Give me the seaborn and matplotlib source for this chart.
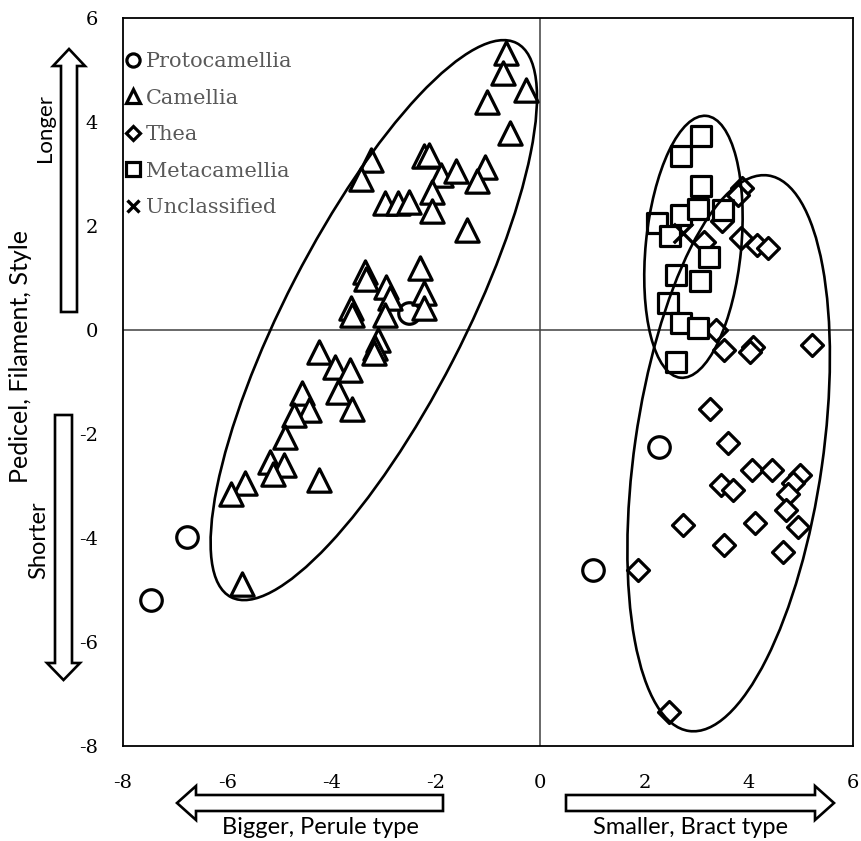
import numpy as np
import pandas as pd
import matplotlib
matplotlib.use("Agg")
import matplotlib.pyplot as plt
from matplotlib.patches import Ellipse, Polygon
from matplotlib.lines import Line2D
import seaborn as sns

# ---------------- data ----------------
proto_x = [-2.52, -6.78, -7.46, 2.27, 1.01]
proto_y = [0.33, -3.98, -5.20, -2.25, -4.62]

camellia_x = [-0.66, -0.72, -0.28, -1.01, -0.58, -3.24, -3.43, -2.23, -2.13, -1.91,
              -1.62, -1.06, -1.22, -2.07, -2.97, -2.73, -2.51, -2.07, -1.40, -3.35,
              -3.34, -2.31, -2.96, -2.87, -2.23, -2.23, -3.62, -3.61, -2.98, -3.10,
              -3.16, -3.19, -4.25, -3.93, -3.64, -3.87, -3.61, -4.56, -4.44, -4.73,
              -4.89, -5.18, -4.92, -5.12, -4.25, -5.66, -5.92, -5.71]
camellia_y = [5.33, 4.94, 4.62, 4.38, 3.79, 3.27, 2.90, 3.34, 3.37, 2.98,
              3.05, 3.14, 2.86, 2.66, 2.44, 2.44, 2.47, 2.28, 1.93, 1.12,
              0.99, 1.19, 0.83, 0.61, 0.71, 0.42, 0.42, 0.29, 0.29, -0.19,
              -0.35, -0.45, -0.42, -0.71, -0.77, -1.19, -1.51, -1.22, -1.54, -1.64,
              -2.05, -2.54, -2.60, -2.76, -2.89, -2.95, -3.15, -4.88]

thea_x = [3.87, 3.79, 3.48, 3.15, 3.86, 4.15, 4.37, 3.38, 3.53, 4.08, 4.02, 5.21,
          3.25, 3.60, 4.06, 4.44, 4.98, 4.85, 4.76, 4.72, 4.95, 4.66, 3.47, 3.69,
          4.12, 2.74, 3.52, 1.87, 2.47]
thea_y = [2.73, 2.60, 2.09, 1.70, 1.77, 1.64, 1.57, 0.00, -0.39, -0.32, -0.42, -0.29,
          -1.51, -2.17, -2.70, -2.70, -2.79, -2.95, -3.15, -3.47, -3.79, -4.27, -2.98, -3.08,
          -3.72, -3.75, -4.14, -4.62, -7.35]

meta_x = [3.08, 2.71, 3.08, 2.70, 3.03, 3.51, 2.24, 2.50, 3.23, 2.61, 3.06, 2.46, 2.71, 3.03, 2.61]
meta_y = [3.74, 3.34, 2.77, 2.22, 2.33, 2.31, 2.05, 1.81, 1.41, 1.06, 0.95, 0.51, 0.13, 0.03, -0.61]

uncl_x = [2.74]
uncl_y = [1.86]

group_names = ["Protocamellia", "Camellia", "Thea", "Metacamellia", "Unclassified"]

# ellipses: center x, center y, width (major), height (minor), angle
ell_cx = [-3.19, 2.94, 3.615]
ell_cy = [0.19, 1.60, -2.37]
ell_w = [11.98, 5.06, 10.79]
ell_h = [3.41, 1.83, 3.61]
ell_ang = [62.8, 84.4, 81.9]

x_ticks = [-8, -6, -4, -2, 0, 2, 4, 6]
y_ticks = [-8, -6, -4, -2, 0, 2, 4, 6]

# ---------------- style ----------------
sns.set_theme(style="white")
plt.rcParams["font.family"] = ["DejaVu Serif"]

W, H = 862, 841
fig = plt.figure(figsize=(W / 100, H / 100), dpi=100)
ax = fig.add_axes([123 / W, 1 - 746 / H, 730 / W, 728 / H])

df = pd.concat([
    pd.DataFrame({"x": proto_x, "y": proto_y, "g": group_names[0]}),
    pd.DataFrame({"x": camellia_x, "y": camellia_y, "g": group_names[1]}),
    pd.DataFrame({"x": thea_x, "y": thea_y, "g": group_names[2]}),
    pd.DataFrame({"x": meta_x, "y": meta_y, "g": group_names[3]}),
    pd.DataFrame({"x": uncl_x, "y": uncl_y, "g": group_names[4]}),
])

styles = {
    "Protocamellia": dict(marker="o", s=15.5 ** 2),
    "Thea": dict(marker="D", s=11.2 ** 2),
    "Camellia": dict(marker="^", s=16.8 ** 2),
    "Metacamellia": dict(marker="s", s=14.6 ** 2),
}
for name in ["Protocamellia", "Thea", "Camellia", "Metacamellia"]:
    sub = df[df["g"] == name]
    sns.scatterplot(data=sub, x="x", y="y", ax=ax, marker=styles[name]["marker"],
                    s=styles[name]["s"], facecolor="white", edgecolor="black",
                    linewidth=2.3, legend=False, zorder=3)
sub = df[df["g"] == "Unclassified"]
sns.scatterplot(data=sub, x="x", y="y", ax=ax, marker="x", s=14 ** 2,
                color="black", linewidth=2.4, legend=False, zorder=4)

for cx, cy, w, h, a in zip(ell_cx, ell_cy, ell_w, ell_h, ell_ang):
    ax.add_patch(Ellipse((cx, cy), w, h, angle=a, fill=False, edgecolor="black",
                         linewidth=1.9, zorder=5))

ax.axhline(0, color="#404040", linewidth=1.1, zorder=1)
ax.axvline(0, color="#404040", linewidth=1.1, zorder=1)

ax.set_xlim(-8, 6)
ax.set_ylim(-8, 6)
ax.set_xticks(x_ticks)
ax.set_yticks(y_ticks)
ax.set_xticklabels([str(t) for t in x_ticks])
ax.set_yticklabels([str(t) for t in y_ticks])
ax.tick_params(axis="x", length=0, pad=20, labelsize=14, colors="black")
ax.tick_params(axis="y", length=0, pad=18, labelsize=14, colors="black")
ax.set_xlabel("")
ax.set_ylabel("")
for sp in ax.spines.values():
    sp.set_color("black")
    sp.set_linewidth(1.3)
ax.grid(False)

# legend
handles = [
    Line2D([], [], linestyle="none", marker="o", markersize=9.5, markerfacecolor="white",
           markeredgecolor="black", markeredgewidth=2.3),
    Line2D([], [], linestyle="none", marker="^", markersize=10.5, markerfacecolor="white",
           markeredgecolor="black", markeredgewidth=2.3),
    Line2D([], [], linestyle="none", marker="D", markersize=7, markerfacecolor="white",
           markeredgecolor="black", markeredgewidth=2.3),
    Line2D([], [], linestyle="none", marker="s", markersize=9.5, markerfacecolor="white",
           markeredgecolor="black", markeredgewidth=2.3),
    Line2D([], [], linestyle="none", marker="x", markersize=9, color="black",
           markeredgewidth=2.4),
]
leg = ax.legend(handles, group_names, loc="upper left", bbox_to_anchor=(0.004, 0.953),
                frameon=False, fontsize=15, handlelength=0.7, handletextpad=0.25,
                labelspacing=0.84, borderpad=0, borderaxespad=0)
for t in leg.get_texts():
    t.set_color("#595959")


# ---------------- annotation arrows & labels (figure pixel layout) ----------------
def px(x, y):
    return (x / W, 1 - y / H)


def block_arrow(tail, tip, shaft_hw, head_hw, head_len):
    tx, ty = tail
    hx, hy = tip
    d = np.array([hx - tx, hy - ty], dtype=float)
    L = np.hypot(*d)
    u = d / L
    n = np.array([-u[1], u[0]])
    t = np.array([tx, ty], dtype=float)
    b = t + u * (L - head_len)
    pts = [t + n * shaft_hw, b + n * shaft_hw, b + n * head_hw, np.array([hx, hy]),
           b - n * head_hw, b - n * shaft_hw, t - n * shaft_hw]
    pts = [px(p[0], p[1]) for p in pts]
    fig.patches.append(Polygon(pts, closed=True, facecolor="white", edgecolor="black",
                               linewidth=1.9, transform=fig.transFigure, figure=fig))


block_arrow((443, 803), (177, 803), 8, 17, 19)
block_arrow((566, 803), (834, 803), 8, 17, 19)
block_arrow((69, 312), (69, 49), 8, 16, 17)
block_arrow((63.5, 415), (63.5, 680), 8.5, 16.5, 17)

lab_font = ["Lato", "DejaVu Sans"]
fig.text(*px(320, 828), "Bigger, Perule type", ha="center", va="center",
         fontsize=17, family=lab_font, color="black")
fig.text(*px(691, 828), "Smaller, Bract type", ha="center", va="center",
         fontsize=17, family=lab_font, color="black")
fig.text(*px(21, 356), "Pedicel, Filament, Style", ha="center", va="center",
         rotation=90, fontsize=18, family=lab_font, color="black")
fig.text(*px(45, 128), "Longer", ha="center", va="center", rotation=90,
         fontsize=16, family=lab_font, color="black")
fig.text(*px(39, 540), "Shorter", ha="center", va="center", rotation=90,
         fontsize=17, family=lab_font, color="black")

fig.savefig("out.png", dpi=100, facecolor="white")
